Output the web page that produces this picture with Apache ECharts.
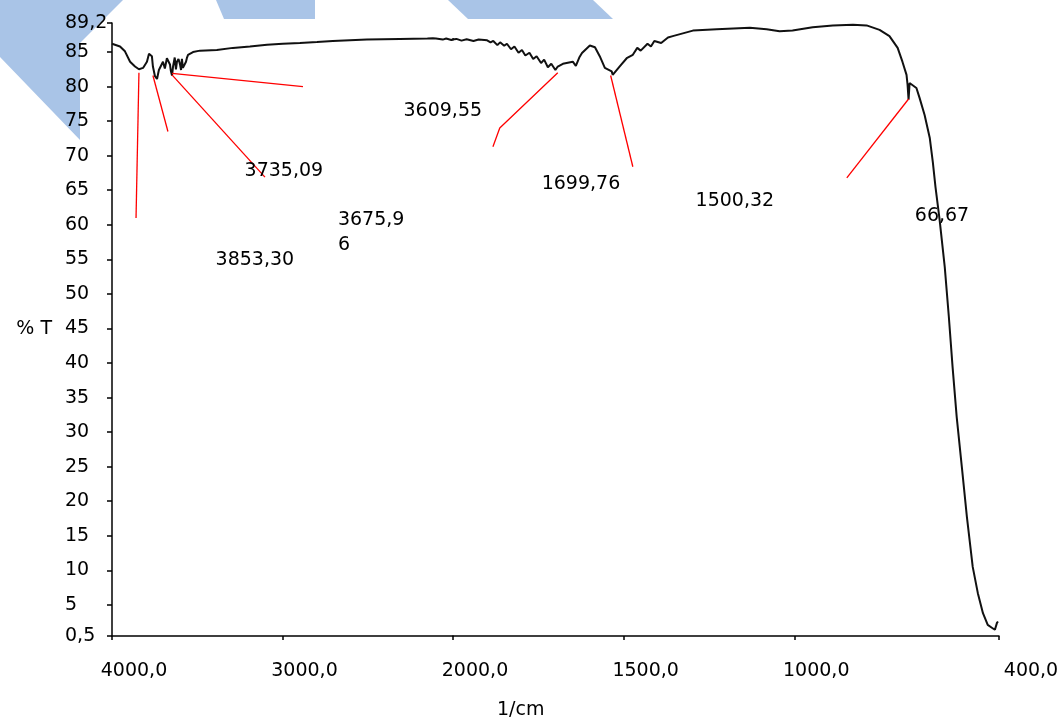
<!DOCTYPE html>
<html><head><meta charset="utf-8">
<script src="https://cdn.jsdelivr.net/npm/echarts@6/dist/echarts.min.js"></script>
<style>html,body{margin:0;padding:0;background:#fff}#c{width:1062px;height:722px}</style>
</head><body><div id="c"></div>
<script>
// Spectrum: wavenumber (1/cm) and transmittance (%T)
const wavenumber = [4000,3953,3924,3894,3865,3842,3818,3795,3783,3766,3760,3748,3736,3725,3701,3690,3678,3672,3660,3655,3648,3642,3632,3625,3619,3610,3601,3595,3590,3584,3575,3566,3560,3554,3525,3484,3385,3291,3191,3091,2998,2898,2798,2705,2505,2312,2150,2118,2100,2060,2040,2010,1990,1975,1960,1940,1925,1900,1890,1882,1870,1862,1850,1842,1830,1820,1808,1798,1788,1776,1765,1755,1742,1733,1722,1712,1700,1693,1678,1649,1640,1630,1622,1599,1584,1570,1555,1535,1532,1512,1491,1473,1460,1450,1430,1420,1410,1390,1370,1356,1297,1227,1130,1081,1043,1005,946,887,828,788,750,721,697,683,671,668,665,662,656,642,633,618,603,594,586,574,559,547,536,524,509,494,477,462,447,433,421,412,406,403];
const transmittance = [86.2,85.8,85.1,83.6,82.9,82.5,82.7,83.6,84.75,84.4,82.9,81.5,81.1,82.4,83.6,82.6,84.1,84.3,83.2,82.3,81.6,82.9,84.2,82.5,83.6,84.0,83.2,82.4,84.0,82.7,82.5,83.6,84.2,84.6,85.0,85.2,85.3,85.6,85.8,86.05,86.2,86.3,86.45,86.6,86.8,86.9,86.95,87.0,86.95,86.8,86.95,86.75,86.9,86.65,86.85,86.6,86.8,86.7,86.4,86.6,86.0,86.4,85.9,86.2,85.4,85.8,84.9,85.3,84.5,84.9,84.0,84.4,83.4,83.9,82.8,83.3,82.4,82.9,83.3,83.6,83.0,84.2,84.85,85.95,85.7,84.4,82.7,82.2,81.7,82.9,84.1,84.6,85.6,85.2,86.2,85.8,86.6,86.3,87.1,87.3,88.1,88.3,88.5,88.3,88.0,88.1,88.6,88.85,88.95,88.85,88.2,87.3,85.6,83.6,81.7,80.3,78.1,80.5,80.3,79.8,78.4,75.9,72.6,69.1,65.4,60.7,53.9,46.7,39.4,32.2,25.0,17.7,10.5,6.7,3.8,2.1,1.7,1.4,2.4,2.6];

const yTicks = [0.5,5,10,15,20,25,30,35,40,45,50,55,60,65,70,75,80,85,89.2];
const xTicksLeft = [4000,3000,2000];
const xTicksRight = [1500,1000,400];

// Peak annotations (text and where it sits, in wavenumber / %T)
const peakText = ['3735,09','3853,30','3675,9\n6','3609,55','1699,76','1500,32','66,67'];
const peakTextWn = [2992,3162,2675,2060,1625,1174,567];
const peakTextT = [67.8,54.9,62.5,76.5,65.9,63.5,61.3];

// Red leader lines (wavenumber, %T pairs)
const leaderWn = [[3842,3859],[3760,3672],[3648,3103],[3648,2880],[1693,1863,1883],[1538,1473],[665,846]];
const leaderT  = [[82.0,61.0],[81.6,73.5],[81.7,66.9],[81.9,80.0],[82.0,74.0,71.3],[81.6,68.4],[78.2,66.8]];

const FONT = 'DejaVu Sans';
const FS = 19;
const fmtNum = (v, d) => v.toFixed(d).replace('.', ',');

const spectrum = wavenumber.map((w, i) => [w, transmittance[i]]);

const chart = echarts.init(document.getElementById('c'), null, {renderer: 'canvas'});

const axisBase = {
  type: 'value',
  axisLine: {show: true, onZero: false, lineStyle: {color: '#000', width: 1.5}},
  axisTick: {show: true, length: 4, lineStyle: {color: '#000', width: 1.5}},
  splitLine: {show: false},
  axisLabel: {color: '#000', fontSize: FS, fontFamily: FONT}
};

const series = [];
[0, 1].forEach(g => {
  series.push({
    type: 'line', xAxisIndex: g, yAxisIndex: g, data: spectrum,
    showSymbol: false, symbol: 'none', clip: true,
    lineStyle: {color: '#111', width: 2}, z: 3
  });
});
leaderWn.forEach((ws, k) => {
  const g = ws[0] >= 2000 ? 0 : 1;
  series.push({
    type: 'line', xAxisIndex: g, yAxisIndex: g,
    data: ws.map((w, i) => [w, leaderT[k][i]]),
    symbol: 'none', clip: false,
    lineStyle: {color: '#ff0000', width: 1.3}, z: 4
  });
});
[0, 1].forEach(g => {
  const items = [];
  peakText.forEach((t, i) => {
    const gi = peakTextWn[i] >= 2000 ? 0 : 1;
    if (gi !== g) return;
    const multi = t.indexOf('\n') >= 0;
    items.push({
      name: t, value: [peakTextWn[i], peakTextT[i]],
      label: multi ? {align: 'left', verticalAlign: 'top'} : {}
    });
  });
  series.push({
    type: 'scatter', xAxisIndex: g, yAxisIndex: g, data: items, clip: false,
    symbolSize: 1, itemStyle: {color: 'rgba(0,0,0,0)', opacity: 1},
    label: {show: true, position: 'inside', formatter: p => p.name, opacity: 1,
            color: '#000', fontSize: FS, fontFamily: FONT, lineHeight: 25},
    z: 5
  });
});

chart.setOption({
  animation: false,
  backgroundColor: '#fff',
  graphic: [
    {type: 'polygon', z: -10, shape: {points: [[0,0],[123,0],[80,43],[80,140],[0,57]]}, style: {fill: '#a9c4e7'}},
    {type: 'polygon', z: -10, shape: {points: [[216,0],[315,0],[315,19],[224,19]]}, style: {fill: '#a9c4e7'}},
    {type: 'polygon', z: -10, shape: {points: [[448,0],[593,0],[613,19],[468,19]]}, style: {fill: '#a9c4e7'}},
    {type: 'text', left: 497, top: 701, style: {text: '1/cm', fill: '#000', font: FS + 'px "DejaVu Sans"'}}
  ],
  grid: [
    {left: 112, top: 23, width: 341, height: 613},
    {left: 453, top: 23, width: 546, height: 613}
  ],
  xAxis: [
    Object.assign({}, axisBase, {
      gridIndex: 0, min: 2000, max: 4000, interval: 1000, inverse: true,
      axisTick: Object.assign({}, axisBase.axisTick, {customValues: xTicksLeft}),
      axisLabel: Object.assign({}, axisBase.axisLabel, {customValues: xTicksLeft,
        formatter: v => fmtNum(v, 1), align: 'center', padding: [0,0,0,44], margin: 26})
    }),
    Object.assign({}, axisBase, {
      gridIndex: 1, min: 400, max: 2000, inverse: true,
      axisTick: Object.assign({}, axisBase.axisTick, {customValues: xTicksRight}),
      axisLabel: Object.assign({}, axisBase.axisLabel, {customValues: xTicksRight,
        formatter: v => v === 400 ? '{e|' + fmtNum(v, 1) + '}' : fmtNum(v, 1),
        rich: {e: {fontSize: FS, fontFamily: FONT, color: '#000', padding: [0,0,0,20]}},
        align: 'center', padding: [0,0,0,44], margin: 26})
    })
  ],
  yAxis: [
    Object.assign({}, axisBase, {
      gridIndex: 0, min: 0.5, max: 89.2,
      axisTick: Object.assign({}, axisBase.axisTick, {length: 5, customValues: yTicks}),
      axisLabel: Object.assign({}, axisBase.axisLabel, {customValues: yTicks,
        formatter: v => (Math.abs(v - Math.round(v)) > 1e-6 ? fmtNum(v, 1) : String(Math.round(v))),
        align: 'left', margin: 47}),
      name: '% T', nameLocation: 'middle', nameRotate: 0, nameGap: 60,
      nameTextStyle: {color: '#000', fontSize: FS, fontFamily: FONT}
    }),
    Object.assign({}, axisBase, {gridIndex: 1, min: 0.5, max: 89.2, show: false})
  ],
  series: series
});
</script>
</body></html>
